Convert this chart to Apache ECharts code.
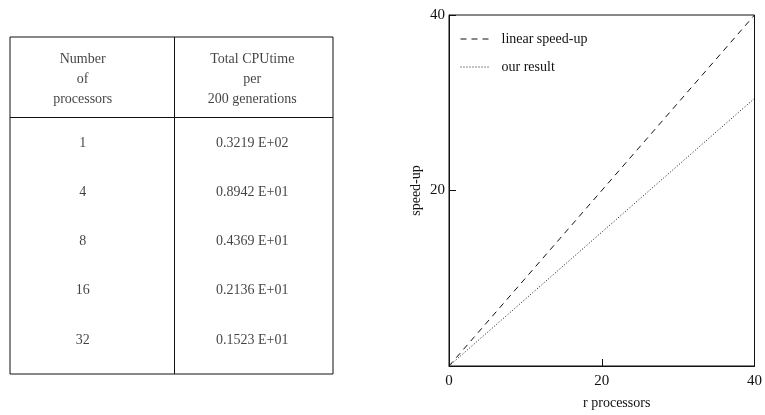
<!DOCTYPE html>
<html>
<head>
<meta charset="utf-8">
<script src="https://cdn.jsdelivr.net/npm/echarts@6/dist/echarts.min.js"></script>
<style>
  html, body { margin: 0; padding: 0; background: #fff; }
  #chart { width: 765px; height: 415px; }
</style>
</head>
<body>
<div id="chart"></div>
<script>
// table data
const tableHeaders = [['Number', 'of', 'processors'], ['Total CPUtime', 'per', '200 generations']];
const procCounts = ['1', '4', '8', '16', '32'];
const cpuTimes = ['0.3219 E+02', '0.8942 E+01', '0.4369 E+01', '0.2136 E+01', '0.1523 E+01'];

// speed-up plot data
const linearSpeedup = [[0, 0], [40, 40]];
const ourResult = [[0, 0], [40, 30.5]];

const font = 'Liberation Serif';
const ink = '#111';

// table cells laid out on a hidden value grid (rows = index, header above row 0)
const colX = [0.45, 1.5];
const tableCells = [];
tableHeaders.forEach((h, c) => tableCells.push([colX[c], -1.3, h.join('\n')]));
procCounts.forEach((p, i) => tableCells.push([colX[0], i, p]));
cpuTimes.forEach((t, i) => tableCells.push([colX[1], i, t]));

const chart = echarts.init(document.getElementById('chart'));
chart.setOption({
  animation: false,
  textStyle: { fontFamily: font, color: ink },
  legend: {
    orient: 'vertical',
    left: 455,
    top: 27,
    itemWidth: 30,
    itemHeight: 12,
    itemGap: 14,
    itemStyle: { opacity: 0 },
    lineStyle: { width: 1 },
    textStyle: { fontFamily: font, fontSize: 14, color: ink, padding: [0, 0, 0, 6] },
    data: ['linear speed-up', 'our result']
  },
  grid: [
    { left: 449, right: 9, top: 15, bottom: 45, show: true, borderColor: ink, borderWidth: 1 },
    { left: 10, top: 37, width: 323, height: 337, show: true, borderColor: ink, borderWidth: 1 }
  ],
  xAxis: [
    {
      gridIndex: 0, type: 'value', min: 0, max: 40, interval: 20,
      name: 'r processors', nameLocation: 'middle', nameGap: 30,
      nameTextStyle: { fontFamily: font, fontSize: 14, color: ink, padding: [0, 0, 0, 30] },
      axisLine: { show: true, onZero: false, lineStyle: { color: ink } },
      axisTick: { show: true, inside: true, length: 7, lineStyle: { color: ink } },
      axisLabel: { fontFamily: font, fontSize: 15, color: ink, margin: 8 },
      splitLine: { show: false }
    },
    { gridIndex: 1, type: 'value', min: 0, max: 2, show: false }
  ],
  yAxis: [
    {
      gridIndex: 0, type: 'value', min: 0, max: 40, interval: 20,
      name: 'speed-up', nameLocation: 'middle', nameGap: 26,
      nameTextStyle: { fontFamily: font, fontSize: 14, color: ink },
      axisLine: { show: true, onZero: false, lineStyle: { color: ink } },
      axisTick: { show: true, inside: true, length: 7, lineStyle: { color: ink } },
      axisLabel: { fontFamily: font, fontSize: 15, color: ink, margin: 4, showMinLabel: false },
      splitLine: { show: false }
    },
    { gridIndex: 1, type: 'value', min: -2.15, max: 4.69, inverse: true, show: false }
  ],
  series: [
    {
      name: 'linear speed-up', type: 'line', xAxisIndex: 0, yAxisIndex: 0,
      data: linearSpeedup, symbol: 'none',
      lineStyle: { color: ink, width: 1, type: [6, 5] }, itemStyle: { color: ink }
    },
    {
      name: 'our result', type: 'line', xAxisIndex: 0, yAxisIndex: 0,
      data: ourResult, symbol: 'none',
      lineStyle: { color: ink, width: 1, type: [1, 2] }, itemStyle: { color: ink }
    },
    {
      name: 'table', type: 'scatter', xAxisIndex: 1, yAxisIndex: 1,
      data: tableCells, symbolSize: 1, silent: true,
      itemStyle: { color: 'rgba(0,0,0,0)' },
      label: {
        show: true, position: 'inside', formatter: p => p.value[2],
        fontFamily: font, fontSize: 14, color: ink, lineHeight: 20
      },
      markLine: {
        silent: true, symbol: 'none', label: { show: false },
        lineStyle: { color: ink, width: 1, type: 'solid' },
        data: [{ yAxis: -0.53 }, { xAxis: 1.02 }]
      }
    }
  ]
});
</script>
</body>
</html>
